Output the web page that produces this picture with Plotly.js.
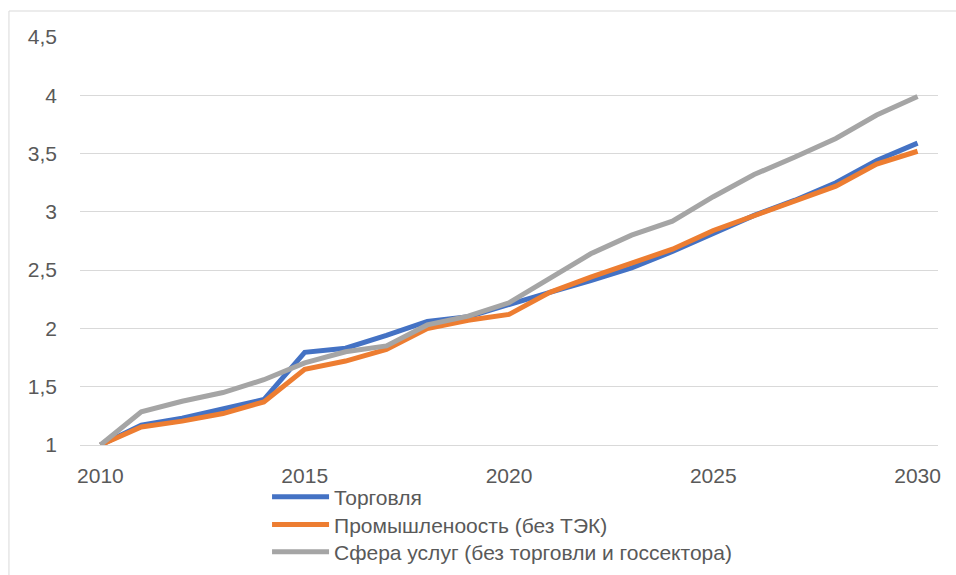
<!DOCTYPE html>
<html>
<head>
<meta charset="utf-8">
<script src="https://cdn.plot.ly/plotly-3.0.1.min.js"></script>
<style>
html,body{margin:0;padding:0;background:#fff;}
#chart{width:956px;height:575px;}
</style>
</head>
<body>
<div id="chart"></div>
<script>
var years = [2010,2011,2012,2013,2014,2015,2016,2017,2018,2019,2020,2021,2022,2023,2024,2025,2026,2027,2028,2029,2030];
var trade = [1,1.17,1.23,1.31,1.39,1.795,1.83,1.94,2.06,2.10,2.21,2.31,2.41,2.52,2.66,2.82,2.97,3.10,3.25,3.44,3.59];
var industry = [1,1.155,1.205,1.27,1.37,1.65,1.72,1.82,2.0,2.07,2.12,2.31,2.44,2.56,2.68,2.84,2.97,3.09,3.22,3.41,3.52];
var services = [1,1.285,1.375,1.45,1.56,1.705,1.80,1.85,2.03,2.105,2.22,2.43,2.64,2.80,2.92,3.13,3.32,3.47,3.63,3.83,3.99];
var names = ["Торговля","Промышленоость (без ТЭК)","Сфера услуг (без торговли и госсектора)"];
var colors = ["#4472C4","#ED7D31","#A5A5A5"];
var series = [trade, industry, services];
var legendIds = ['legend','legend2','legend3'];

var traces = series.map(function(s,i){
  return {x: years, y: s, type:'scatter', mode:'lines', name: names[i], legend: legendIds[i],
          line:{color: colors[i], width:5}};
});

function leg(y){
  return {x:0.218, y:y, xanchor:'left', yanchor:'middle', orientation:'v',
          font:{size:21, color:'#595959'}, itemwidth:57, bgcolor:'rgba(0,0,0,0)'};
}

var layout = {
  width:956, height:575,
  margin:{l:80, r:18, t:37, b:130, autoexpand:false},
  paper_bgcolor:'#ffffff', plot_bgcolor:'#ffffff',
  separators:', ',
  font:{family:'Liberation Sans, Arial, sans-serif', size:21, color:'#595959'},
  showlegend:true,
  legend: leg(-0.1275),
  legend2: leg(-0.196),
  legend3: leg(-0.2623),
  xaxis:{range:[2009.5,2030.5], tick0:2010, dtick:5, showgrid:false, zeroline:false,
         showline:true, linecolor:'#d9d9d9', linewidth:1, ticks:'', ticklabelstandoff:12,
         tickfont:{size:21, color:'#595959'}},
  yaxis:{range:[1,4.5], dtick:0.5, tick0:1, showgrid:true, gridcolor:'#d9d9d9', gridwidth:1,
         zeroline:false, showline:false, ticks:'', ticklabelstandoff:22,
         tickfont:{size:21, color:'#595959'}},
  shapes:[{type:'rect', xref:'paper', yref:'paper', x0:-0.0828, x1:1.2, y0:-0.5, y1:1.0637,
           line:{color:'#d9d9d9', width:1}, fillcolor:'rgba(0,0,0,0)', layer:'below'}]
};
Plotly.newPlot('chart', traces, layout, {displayModeBar:false, staticPlot:true});
</script>
</body>
</html>
